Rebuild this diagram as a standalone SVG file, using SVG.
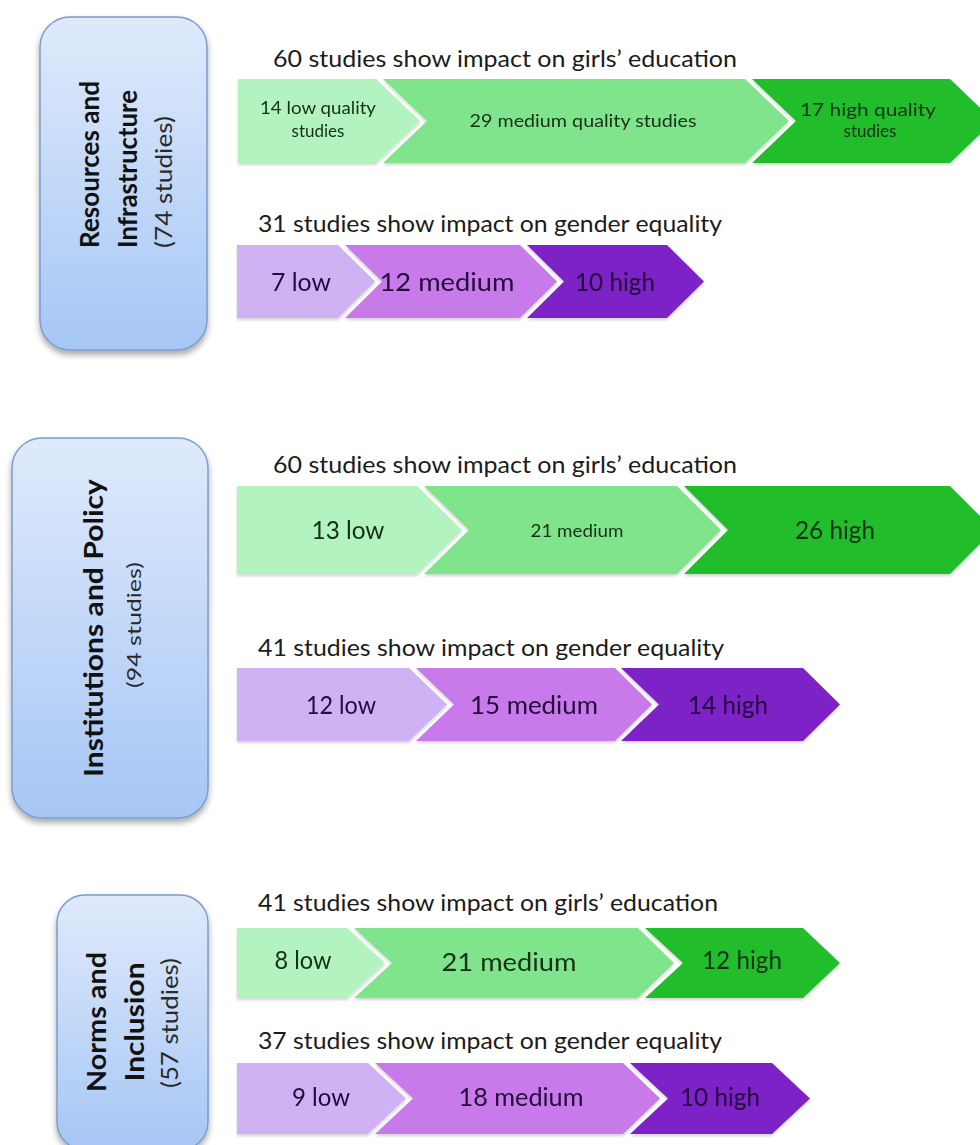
<svg xmlns="http://www.w3.org/2000/svg" width="980" height="1145" viewBox="0 0 980 1145">
<defs>
<linearGradient id="boxGrad" x1="0" y1="0" x2="0" y2="1">
<stop offset="0" stop-color="#dfeafb"/>
<stop offset="1" stop-color="#a6c6f5"/>
</linearGradient>
<filter id="boxShadow" x="-20%" y="-10%" width="140%" height="125%">
<feGaussianBlur in="SourceAlpha" stdDeviation="3"/>
<feOffset dx="0" dy="4" result="b"/>
<feComponentTransfer><feFuncA type="linear" slope="0.35"/></feComponentTransfer>
<feMerge><feMergeNode/><feMergeNode in="SourceGraphic"/></feMerge>
</filter>
<filter id="segShadow" x="-5%" y="-10%" width="110%" height="130%">
<feGaussianBlur in="SourceAlpha" stdDeviation="1.5"/>
<feOffset dx="0" dy="2" result="b"/>
<feComponentTransfer><feFuncA type="linear" slope="0.18"/></feComponentTransfer>
<feMerge><feMergeNode/><feMergeNode in="SourceGraphic"/></feMerge>
</filter>
</defs>
<style>
.box{fill:url(#boxGrad);stroke:#7b9ccf;stroke-width:1.5;filter:url(#boxShadow)}
.bt{font-family:Lato,"Liberation Sans",sans-serif;font-weight:bold;font-size:26px;fill:#111}
.bs{font-family:Lato,"Liberation Sans",sans-serif;font-weight:normal;font-size:23px;fill:#2a2a2a}
.title{font-family:Lato,"Liberation Sans",sans-serif;font-size:23px;fill:#1b1b1b}
.lg{font-family:Lato,"Liberation Sans",sans-serif;font-size:25px;fill:#163016;text-anchor:middle}
.lp{font-family:Lato,"Liberation Sans",sans-serif;font-size:25px;fill:#22093a;text-anchor:middle}
.sm{font-size:17px}
.g1{fill:#b3f3c0}
.g2{fill:#80e48c}
.g3{fill:#23bd2c}
.p1{fill:#d0b2f4}
.p2{fill:#c87aea}
.p3{fill:#7b21c7}
.row{filter:url(#segShadow)}
</style>

<!-- Section 1 -->
<g id="box-resources">
<rect class="box" x="40" y="17" width="167" height="333" rx="30" ry="30"/>
<text class="bt" x="99" y="248" transform="rotate(-90 99 248)" textLength="167" lengthAdjust="spacingAndGlyphs">Resources and</text>
<text class="bt" x="137" y="248" transform="rotate(-90 137 248)" textLength="158" lengthAdjust="spacingAndGlyphs">Infrastructure</text>
<text class="bs" x="172" y="248" transform="rotate(-90 172 248)" textLength="132" lengthAdjust="spacingAndGlyphs">(74  studies)</text>
</g>

<text class="title" x="273" y="67" textLength="464" lengthAdjust="spacingAndGlyphs">60 studies show impact on girls’ education</text>
<g class="row">
<g id="r1-edu-low"><polygon class="g1" points="238,79 376,79 420,121 376,163 238,163"/>
<text class="lg sm" x="318" y="114" textLength="116" lengthAdjust="spacingAndGlyphs">14 low quality</text>
<text class="lg sm" x="318" y="137">studies</text></g>
<g id="r1-edu-med"><polygon class="g2" points="383,79 745,79 789,121 745,163 383,163 427,121"/>
<text class="lg sm" x="583" y="127" textLength="227" lengthAdjust="spacingAndGlyphs">29 medium quality studies</text></g>
<g id="r1-edu-high"><polygon class="g3" points="752,79 950,79 994,121 950,163 752,163 796,121"/>
<text class="lg sm" x="868" y="116" textLength="136" lengthAdjust="spacingAndGlyphs">17 high quality</text>
<text class="lg sm" x="870" y="137">studies</text></g>
</g>

<text class="title" x="258" y="232" textLength="464" lengthAdjust="spacingAndGlyphs">31 studies show impact on gender equality</text>
<g class="row">
<g id="r1-gen-low"><polygon class="p1" points="237,245 338,245 375,281.5 338,318 237,318"/>
<text class="lp" x="301" y="291" textLength="60" lengthAdjust="spacingAndGlyphs">7 low</text></g>
<g id="r1-gen-med"><polygon class="p2" points="345,245 520,245 557,281.5 520,318 345,318 382,281.5"/>
<text class="lp" x="447" y="291" textLength="135" lengthAdjust="spacingAndGlyphs">12 medium</text></g>
<g id="r1-gen-high"><polygon class="p3" points="527,245 667,245 704,281.5 667,318 527,318 564,281.5"/>
<text class="lp" x="615" y="291" textLength="80" lengthAdjust="spacingAndGlyphs">10 high</text></g>
</g>

<!-- Section 2 -->
<g id="box-institutions">
<rect class="box" x="12" y="438" width="196" height="380" rx="30" ry="30"/>
<text class="bt" x="103" y="628" text-anchor="middle" transform="rotate(-90 103 628)" textLength="298" lengthAdjust="spacingAndGlyphs">Institutions and  Policy</text>
<text class="bs" x="141" y="625" text-anchor="middle" transform="rotate(-90 141 625)" style="font-size:20px" textLength="126" lengthAdjust="spacingAndGlyphs">(94  studies)</text>
</g>

<text class="title" x="273" y="473" textLength="464" lengthAdjust="spacingAndGlyphs">60 studies show impact on girls’ education</text>
<g class="row">
<g id="r2-edu-low"><polygon class="g1" points="237,486 417,486 462,530 417,574 237,574"/>
<text class="lg" x="348" y="539" textLength="73" lengthAdjust="spacingAndGlyphs">13 low</text></g>
<g id="r2-edu-med"><polygon class="g2" points="424,486 677,486 721,530 677,574 424,574 469,530"/>
<text class="lg sm" x="577" y="537" textLength="93" lengthAdjust="spacingAndGlyphs">21 medium</text></g>
<g id="r2-edu-high"><polygon class="g3" points="684,486 950,486 994,530 950,574 684,574 728,530"/>
<text class="lg" x="835" y="539" textLength="80" lengthAdjust="spacingAndGlyphs">26 high</text></g>
</g>

<text class="title" x="258" y="656" textLength="466" lengthAdjust="spacingAndGlyphs">41 studies show impact on gender equality</text>
<g class="row">
<g id="r2-gen-low"><polygon class="p1" points="237,668 409,668 447,704.5 409,741 237,741"/>
<text class="lp" x="341" y="714" textLength="70" lengthAdjust="spacingAndGlyphs">12 low</text></g>
<g id="r2-gen-med"><polygon class="p2" points="416,668 615,668 652,704.5 615,741 416,741 454,704.5"/>
<text class="lp" x="534" y="714" textLength="128" lengthAdjust="spacingAndGlyphs">15 medium</text></g>
<g id="r2-gen-high"><polygon class="p3" points="621,668 803,668 840,704.5 803,741 621,741 659,704.5"/>
<text class="lp" x="728" y="714" textLength="80" lengthAdjust="spacingAndGlyphs">14 high</text></g>
</g>

<!-- Section 3 -->
<g id="box-norms">
<rect class="box" x="57" y="895" width="151" height="255" rx="28" ry="28"/>
<text class="bt" x="106" y="1022" text-anchor="middle" transform="rotate(-90 106 1022)" textLength="140" lengthAdjust="spacingAndGlyphs">Norms and</text>
<text class="bt" x="144" y="1022" text-anchor="middle" transform="rotate(-90 144 1022)" textLength="119" lengthAdjust="spacingAndGlyphs">Inclusion</text>
<text class="bs" x="178" y="1023" text-anchor="middle" transform="rotate(-90 178 1023)" textLength="130" lengthAdjust="spacingAndGlyphs">(57 studies)</text>
</g>

<text class="title" x="258" y="911" textLength="460" lengthAdjust="spacingAndGlyphs">41 studies show impact on girls’ education</text>
<g class="row">
<g id="r3-edu-low"><polygon class="g1" points="237,928 347,928 385,963 347,998 237,998"/>
<text class="lg" x="303" y="969" textLength="57" lengthAdjust="spacingAndGlyphs">8 low</text></g>
<g id="r3-edu-med"><polygon class="g2" points="354,928 638,928 674,963 638,998 354,998 392,963"/>
<text class="lg" x="509" y="971" textLength="135" lengthAdjust="spacingAndGlyphs">21 medium</text></g>
<g id="r3-edu-high"><polygon class="g3" points="645,928 803,928 840,963 803,998 645,998 683,963"/>
<text class="lg" x="742" y="969" textLength="80" lengthAdjust="spacingAndGlyphs">12 high</text></g>
</g>

<text class="title" x="258" y="1049" textLength="464" lengthAdjust="spacingAndGlyphs">37 studies show impact on gender equality</text>
<g class="row">
<g id="r3-gen-low"><polygon class="p1" points="237,1063 368,1063 406,1098.5 368,1134 237,1134"/>
<text class="lp" x="321" y="1106" textLength="58" lengthAdjust="spacingAndGlyphs">9 low</text></g>
<g id="r3-gen-med"><polygon class="p2" points="375,1063 623,1063 660,1098.5 623,1134 375,1134 413,1098.5"/>
<text class="lp" x="521" y="1106" textLength="125" lengthAdjust="spacingAndGlyphs">18 medium</text></g>
<g id="r3-gen-high"><polygon class="p3" points="630,1063 772,1063 810,1098.5 772,1134 630,1134 668,1098.5"/>
<text class="lp" x="720" y="1106" textLength="80" lengthAdjust="spacingAndGlyphs">10 high</text></g>
</g>
</svg>
